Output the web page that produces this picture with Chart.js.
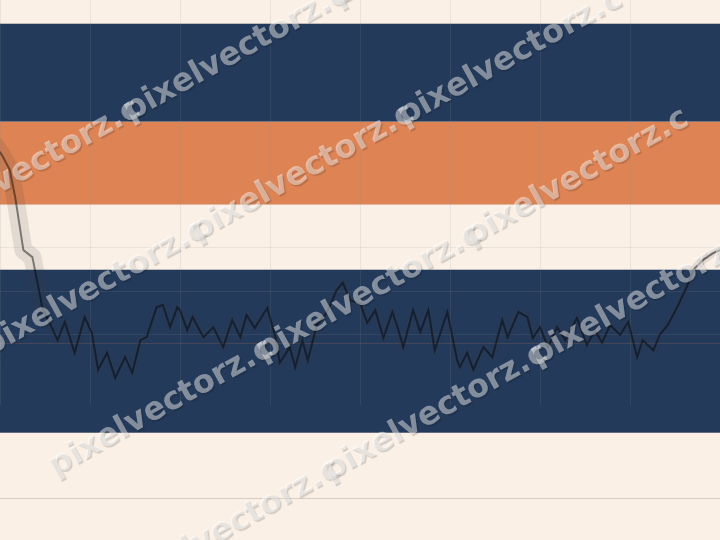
<!DOCTYPE html>
<html>
<head>
<meta charset="utf-8">
<script src="https://cdn.jsdelivr.net/npm/chart.js@4.4.1/dist/chart.umd.min.js"></script>
<style>
  html, body { margin: 0; padding: 0; background: #faf0e6; }
  canvas { display: block; }
</style>
</head>
<body>
<canvas id="chart" width="720" height="540"></canvas>
<script>
// series (x in period units, y in index units)
const xValues = [-0.6, 0.2, 1.1, 1.7, 2.6, 3.6, 4.7, 6.4, 7.2, 8.3, 9.4, 10.2, 10.9, 11.9, 12.8, 13.9, 14.7, 15.6, 16.3, 17.4,
  18.1, 18.9, 19.7, 20.0, 20.8, 21.4, 22.6, 23.7, 24.8, 25.8, 26.7, 27.4, 28.3, 29.7, 30.6, 31.1, 32.2, 32.8, 33.6, 34.2,
  35.2, 36.3, 37.4, 38.1, 38.9, 40.0, 40.8, 41.7, 42.6, 43.6, 44.2, 44.8, 45.9, 46.7, 47.6, 48.3, 49.7, 50.8, 51.1, 51.9,
  52.6, 53.7, 54.7, 55.8, 56.4, 57.6, 58.6, 59.2, 60.0, 60.9, 61.9, 62.8, 64.1, 65.2, 66.1, 66.9, 67.8, 68.9, 69.8, 70.8,
  71.4, 72.6, 73.3, 74.2, 75.2, 76.3, 77.0, 78.1, 79.2, 80.6];
const yValues = [63.7, 61.4, 57.9, 51.5, 39.5, 37.9, 26.4, 18.8, 23.0, 15.9, 24.1, 20.5, 12.0, 15.9, 10.1, 14.9, 11.3, 18.8, 19.5, 26.4,
  26.9, 21.8, 26.4, 25.7, 21.1, 24.1, 19.5, 21.8, 17.2, 23.4, 19.5, 24.6, 21.6, 26.2, 19.5, 13.6, 17.2, 12.6, 18.8, 14.2,
  22.3, 25.1, 30.3, 32.0, 28.0, 27.3, 22.8, 25.7, 19.3, 25.3, 21.6, 17.2, 25.7, 20.7, 25.7, 16.5, 25.3, 14.2, 12.6, 15.9,
  12.0, 17.2, 14.9, 23.4, 19.5, 25.3, 24.1, 19.3, 21.8, 17.2, 21.8, 18.8, 23.9, 17.7, 21.1, 18.2, 22.3, 20.0, 23.0, 14.9,
  18.8, 16.5, 20.0, 22.3, 26.2, 31.0, 34.9, 37.2, 38.8, 40.0];

// horizontal zones
const bandLow  = [69, 50, -2.5];
const bandHigh = [91.5, 69, 35];

// reference lines and grid ticks
const refLine = 18.2;
const baseRule = -17.5;
const edgeValues = [91.5, 69, -2.5];
const xGridValues = [0, 10, 20, 30, 40, 50, 60, 70, 80];
const yGridValues = [20, 30, 40, 50];

const watermarkText = 'pixelvectorz.c';

const cream = '#faf0e6';
const navy = '#243a5a';
const orange = '#dd8354';
const bandColors = [navy, orange, navy];

const bandsPlugin = {
  id: 'bands',
  beforeDraw(chart) {
    const { ctx, width, height } = chart;
    const y = chart.scales.y;
    ctx.save();
    ctx.fillStyle = cream;
    ctx.fillRect(0, 0, width, height);

    bandLow.forEach((low, i) => {
      const top = y.getPixelForValue(bandHigh[i]);
      const bottom = y.getPixelForValue(low);
      ctx.fillStyle = bandColors[i];
      ctx.fillRect(0, top, width, bottom - top);
    });

    ctx.fillStyle = 'rgba(140,140,150,0.45)';
    edgeValues.forEach(v => {
      ctx.fillRect(0, Math.round(y.getPixelForValue(v)) - 1, width, 1);
    });

    ctx.fillStyle = 'rgba(221,131,84,0.18)';
    ctx.fillRect(0, Math.round(y.getPixelForValue(refLine)), width, 1);

    ctx.fillStyle = 'rgba(200,190,180,0.7)';
    ctx.fillRect(0, Math.round(y.getPixelForValue(baseRule)), width, 1);
    ctx.restore();
  }
};

const watermarkPlugin = {
  id: 'watermark',
  afterDraw(chart) {
    const { ctx } = chart;
    const angle = -29 * Math.PI / 180;
    const ux = Math.cos(angle), uy = Math.sin(angle);
    const nx = -uy, ny = ux;
    ctx.save();
    ctx.font = 'bold 32px "DejaVu Sans"';
    const period = ctx.measureText('pixelvectorz.').width + 5;
    ctx.fillStyle = 'rgba(255,255,255,0.45)';
    ctx.shadowColor = 'rgba(0,0,0,0.35)';
    ctx.shadowOffsetX = 1.5;
    ctx.shadowOffsetY = 1.5;
    ctx.shadowBlur = 1;
    [169, 306, 443, 580].forEach(n => {
      for (let j = -1; j <= 1; j++) {
        const u = 55 + j * period;
        ctx.save();
        ctx.translate(u * ux + n * nx, u * uy + n * ny);
        ctx.rotate(angle);
        ctx.fillText(watermarkText, 0, 0);
        ctx.restore();
      }
    });
    ctx.restore();
  }
};

const points = xValues.map((x, i) => ({ x: x, y: yValues[i] }));

const gridOpts = (values) => ({
  afterBuildTicks: (scale) => { scale.ticks = values.map(v => ({ value: v })); },
  grid: { color: 'rgba(150,150,150,0.14)', drawTicks: false, lineWidth: 1 },
  border: { display: false },
  ticks: { display: false }
});

new Chart(document.getElementById('chart'), {
  type: 'line',
  data: {
    datasets: [
      {
        data: points,
        borderColor: 'rgba(0,0,0,0.45)',
        borderWidth: 2,
        pointRadius: 0,
        tension: 0,
        fill: false
      },
      {
        data: points,
        borderColor: 'rgba(60,60,60,0.12)',
        borderWidth: 8,
        borderJoinStyle: 'round',
        borderCapStyle: 'round',
        segment: {
          borderWidth: ctx => (ctx.p0.parsed.x < 4 ? 18 : 8)
        },
        pointRadius: 0,
        tension: 0,
        fill: false
      }
    ]
  },
  options: {
    responsive: false,
    animation: false,
    devicePixelRatio: 1,
    layout: { padding: { left: 0, right: 0, top: 0, bottom: 135 } },
    plugins: { legend: { display: false }, tooltip: { enabled: false } },
    scales: {
      x: Object.assign({ type: 'linear', min: 0, max: 80 }, gridOpts(xGridValues)),
      y: Object.assign({ type: 'linear', min: 3.9, max: 97 }, gridOpts(yGridValues))
    }
  },
  plugins: [bandsPlugin, watermarkPlugin]
});
</script>
</body>
</html>
